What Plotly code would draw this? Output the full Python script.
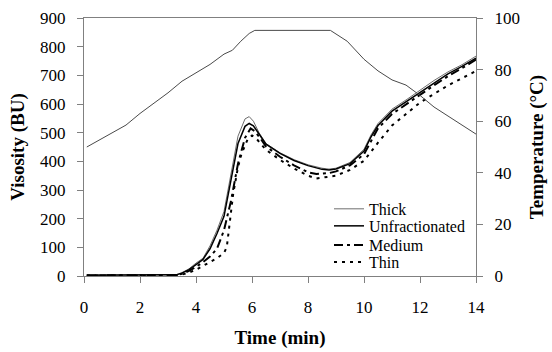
import plotly.graph_objects as go

# ---- data ----
temp_time = [0.1, 0.5, 1.0, 1.5, 2.0, 2.5, 3.0, 3.5, 3.9, 4.5, 5.0, 5.3, 5.6, 5.9, 6.1,
             8.8, 9.4, 10.0, 10.5, 11.0, 11.5, 12.0, 12.5, 13.0, 13.5, 14.0]
temp_c = [50, 52.5, 55.5, 58.5, 63, 67, 71, 75.5, 78, 82, 86, 87.5, 91, 94, 95.2,
          95.2, 91, 84, 79.5, 76, 74, 70, 65.5, 62, 58.5, 55]

thick_time = [0.1, 0.5, 1.0, 1.5, 2.0, 2.5, 3.0, 3.3, 3.5, 3.75, 4.0, 4.25, 4.5, 4.75, 5.0,
              5.25, 5.5, 5.75, 5.9, 6.05, 6.25, 6.5, 7.0, 7.5, 8.0, 8.5, 8.75, 9.0, 9.5,
              10.0, 10.25, 10.5, 11.0, 11.5, 12.0, 12.5, 13.0, 13.5, 14.0]
thick_bu = [4, 4, 4, 4, 4, 4, 4, 5, 12, 25, 45, 62, 105, 160, 225,
            360, 488, 548, 556, 540, 500, 462, 430, 406, 388, 376, 373, 376, 396,
            442, 492, 532, 582, 614, 648, 682, 712, 737, 767]

unfr_time = [0.1, 0.5, 1.0, 1.5, 2.0, 2.5, 3.0, 3.3, 3.5, 3.75, 4.0, 4.25, 4.5, 4.75, 5.0,
             5.25, 5.5, 5.75, 5.9, 6.05, 6.25, 6.5, 7.0, 7.5, 8.0, 8.5, 8.75, 9.0, 9.5,
             10.0, 10.25, 10.5, 11.0, 11.5, 12.0, 12.5, 13.0, 13.5, 14.0]
unfr_bu = [3, 3, 3, 3, 3, 3, 3, 4, 10, 22, 40, 58, 95, 148, 208,
           340, 462, 522, 532, 524, 495, 460, 428, 403, 385, 372, 370, 373, 392,
           436, 485, 525, 575, 608, 640, 675, 705, 731, 760]

med_time = [0.1, 0.5, 1.0, 1.5, 2.0, 2.5, 3.0, 3.3, 3.5, 3.75, 4.0, 4.25, 4.5, 4.75, 5.0,
            5.25, 5.5, 5.75, 5.95, 6.1, 6.3, 6.5, 7.0, 7.5, 8.0, 8.3, 8.75, 9.0, 9.5,
            10.0, 10.25, 10.5, 11.0, 11.5, 12.0, 12.5, 13.0, 13.5, 14.0]
med_bu = [2, 2, 2, 2, 2, 2, 2, 3, 8, 18, 32, 48, 68, 95, 160,
          262, 392, 482, 515, 505, 480, 452, 416, 386, 362, 356, 359, 365, 386,
          425, 470, 515, 565, 600, 632, 665, 697, 725, 755]

thin_time = [0.1, 0.5, 1.0, 1.5, 2.0, 2.5, 3.0, 3.3, 3.5, 3.75, 4.0, 4.25, 4.5, 4.75, 5.0,
             5.1, 5.33, 5.5, 5.63, 5.85, 6.0, 6.15, 6.5, 7.0, 7.5, 8.0, 8.3, 8.75, 9.0,
             9.5, 10.0, 10.5, 11.0, 11.5, 12.0, 12.5, 13.0, 13.5, 14.0]
thin_bu = [2, 2, 2, 2, 2, 2, 2, 2, 5, 12, 22, 35, 48, 62, 80,
           101, 288, 380, 428, 478, 490, 480, 440, 405, 375, 350, 340, 345, 350,
           370, 402, 465, 525, 565, 605, 635, 665, 690, 715]

x_ticks = [0, 2, 4, 6, 8, 10, 12, 14]

FONT = "Liberation Serif, Times New Roman, serif"

fig = go.Figure()
fig.add_trace(go.Scatter(x=thick_time, y=thick_bu, name="Thick", mode="lines",
                         legend="legend", line=dict(color="#6e6e6e", width=1)))
fig.add_trace(go.Scatter(x=unfr_time, y=unfr_bu, name="Unfractionated", mode="lines",
                         legend="legend2", line=dict(color="black", width=1.5)))
fig.add_trace(go.Scatter(x=med_time, y=med_bu, name="Medium", mode="lines",
                         legend="legend3",
                         line=dict(color="black", width=2, dash="9px,4px,3px,4px")))
fig.add_trace(go.Scatter(x=thin_time, y=thin_bu, name="Thin", mode="lines",
                         legend="legend4",
                         line=dict(color="black", width=2, dash="3px,5px")))
fig.add_trace(go.Scatter(x=temp_time, y=temp_c, name="Temperature", mode="lines",
                         yaxis="y2", showlegend=False,
                         line=dict(color="#4a4a4a", width=1)))

axis_col = "#808080"
leg_x = 0.625
def leg(y):
    return dict(x=leg_x, y=y, xanchor="left", yanchor="middle",
                bgcolor="rgba(0,0,0,0)", borderwidth=0,
                font=dict(family=FONT, size=16), itemwidth=30)

fig.update_layout(
    width=552, height=352,
    margin=dict(l=84, r=76, t=18, b=76, autoexpand=False),
    paper_bgcolor="white", plot_bgcolor="white",
    font=dict(family=FONT, size=16, color="black"),
    showlegend=True,
    legend=leg(0.26), legend2=leg(0.194), legend3=leg(0.12), legend4=leg(0.054),
    xaxis=dict(range=[0, 14], tickvals=x_ticks, showgrid=False, zeroline=False,
               showline=True, linecolor=axis_col, linewidth=1, mirror=True,
               ticks="outside", ticklen=6, tickcolor=axis_col, automargin=False,
               ticklabelstandoff=10,
               tickfont=dict(family=FONT, size=17),
               title=dict(text="<b>Time (min)</b>", font=dict(family=FONT, size=19),
                          standoff=14)),
    yaxis=dict(range=[0, 900], dtick=100, showgrid=False, zeroline=False,
               showline=True, linecolor=axis_col, linewidth=1,
               ticks="outside", ticklen=6, tickcolor=axis_col, automargin=False,
               ticklabelstandoff=8,
               tickfont=dict(family=FONT, size=17),
               title=dict(text="<b>Visosity (BU)</b>", font=dict(family=FONT, size=19),
                          standoff=10)),
    yaxis2=dict(range=[0, 100], dtick=20, overlaying="y", side="right",
                showgrid=False, zeroline=False, showline=True, linecolor=axis_col,
                linewidth=1, ticks="outside", ticklen=6, tickcolor=axis_col,
                automargin=False, ticklabelstandoff=8,
                tickfont=dict(family=FONT, size=17),
                title=dict(text="<b>Temperature (°C)</b>", font=dict(family=FONT, size=19),
                           standoff=10)),
)

fig.write_html("out.html", config={"displayModeBar": False},
               post_script="document.body.style.margin='0';document.body.style.overflow='hidden';")
